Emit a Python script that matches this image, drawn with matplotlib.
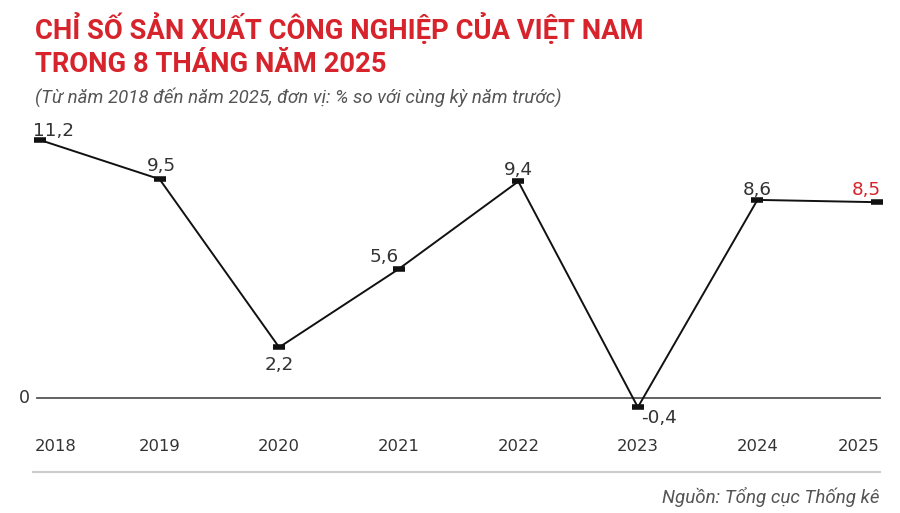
import numpy as np
import matplotlib.pyplot as plt
from matplotlib.lines import Line2D

# Dữ liệu
nam = ["2018", "2019", "2020", "2021", "2022", "2023", "2024", "2025"]
chi_so = [11.2, 9.5, 2.2, 5.6, 9.4, -0.4, 8.6, 8.5]
nhan = ["11,2", "9,5", "2,2", "5,6", "9,4", "-0,4", "8,6", "8,5"]

# vị trí nhãn so với điểm (offset theo point, căn lề)
vi_tri_nhan = [
    (-5, 0, "left", "bottom"),
    (1, 3, "center", "bottom"),
    (0, -6, "center", "top"),
    (0, 2, "right", "bottom"),
    (0, 2, "center", "bottom"),
    (2, -1, "left", "top"),
    (0, 1, "center", "bottom"),
    (3, 2, "right", "bottom"),
]

W, H = 900, 513
fig = plt.figure(figsize=(9, 5.13), dpi=100)
fig.patch.set_facecolor("white")

font = "Roboto"
font_so = "DejaVu Sans"
do = "#d7232b"
xam = "#333333"

# trục: 0 -> px 40, 7 -> px 877 ; y=0 -> px 398, y=11.2 -> px 140
ax_l, ax_r = 30, 885
u = 7 / (877 - 40)
y_bot = (H - 398) / H
y_h = (398 - 140) / H
ax = fig.add_axes([ax_l / W, y_bot, (ax_r - ax_l) / W, y_h])
ax.set_xlim(0 - (40 - ax_l) * u, 7 + (ax_r - 877) * u)
ax.set_ylim(0, 11.2)
ax.axis("off")

x = np.arange(len(nam))
ax.axhline(0, xmin=(37 - ax_l) / (ax_r - ax_l), xmax=(880 - ax_l) / (ax_r - ax_l),
           color="#555555", lw=1.3, clip_on=False, zorder=1)
ax.plot(x, chi_so, color="#111111", lw=1.4, clip_on=False, zorder=2)
ax.plot(x, chi_so, ls="none", marker="_", ms=8, mew=4, color="#111111",
        clip_on=False, zorder=3)

for i, (xi, yi) in enumerate(zip(x, chi_so)):
    dx, dy, ha, va = vi_tri_nhan[i]
    mau = do if i == len(x) - 1 else xam
    ax.annotate(nhan[i], (xi, yi), xytext=(dx, dy), textcoords="offset points",
                ha=ha, va=va, fontsize=13.2, color=mau, family=font_so,
                annotation_clip=False)

# nhãn năm
for i, xi in enumerate(x):
    if i == 0:
        ha, xx = "left", xi - 5 * u
    elif i == len(x) - 1:
        ha, xx = "right", xi + 3 * u
    else:
        ha, xx = "center", xi
    ax.text(xx, -49 / 23.04, nam[i], ha=ha, va="center", fontsize=11.8,
            color=xam, family=font_so)

ax.text(-10 * u, 0, "0", ha="right", va="center", fontsize=12.5, color=xam,
        family=font_so)

# đường phân cách và nguồn
fig.add_artist(Line2D([33 / W, 880 / W], [1 - 472 / H, 1 - 472 / H],
                      color="#cccccc", lw=1.5))
fig.text(880 / W, 1 - 497 / H, "Nguồn: Tổng cục Thống kê", ha="right",
         va="center", fontsize=13.5, style="italic", color="#555555", family=font)

# tiêu đề
fig.text(35 / W, 1 - 29 / H, "CHỈ SỐ SẢN XUẤT CÔNG NGHIỆP CỦA VIỆT NAM",
         ha="left", va="center", fontsize=19.7, weight="bold", color=do, family=font)
fig.text(35 / W, 1 - 65 / H, "TRONG 8 THÁNG NĂM 2025",
         ha="left", va="center", fontsize=19.7, weight="bold", color=do, family=font)
fig.text(35 / W, 1 - 97 / H,
         "(Từ năm 2018 đến năm 2025, đơn vị: % so với cùng kỳ năm trước)",
         ha="left", va="center", fontsize=13.4, style="italic", color="#555555",
         family=font)

fig.savefig("out.png", dpi=100, facecolor="white")
